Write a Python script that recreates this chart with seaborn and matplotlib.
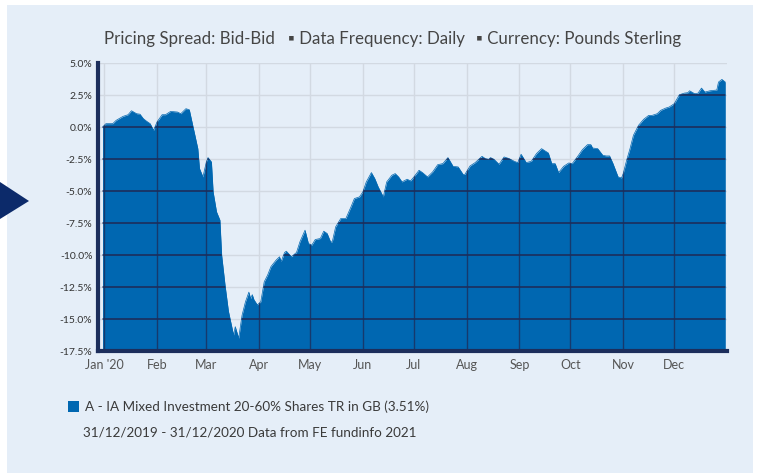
import pandas as pd
import seaborn as sns
import matplotlib.pyplot as plt
from matplotlib.patches import Rectangle, Polygon

# ==========================================
# DATA
# ==========================================
dates = [
    "2019-12-31", "2020-01-02", "2020-01-06", "2020-01-08", "2020-01-12", "2020-01-15",
    "2020-01-17", "2020-01-20", "2020-01-22", "2020-01-24", "2020-01-26", "2020-01-28",
    "2020-01-30", "2020-02-01", "2020-02-04", "2020-02-06", "2020-02-09", "2020-02-13",
    "2020-02-15", "2020-02-18", "2020-02-20", "2020-02-22", "2020-02-25", "2020-02-26",
    "2020-02-28", "2020-03-01", "2020-03-02", "2020-03-04", "2020-03-05", "2020-03-07",
    "2020-03-09", "2020-03-10", "2020-03-12", "2020-03-14", "2020-03-17", "2020-03-18",
    "2020-03-20", "2020-03-22", "2020-03-24", "2020-03-26", "2020-03-27", "2020-03-28",
    "2020-03-29", "2020-03-31", "2020-04-02", "2020-04-04", "2020-04-06", "2020-04-08",
    "2020-04-11", "2020-04-13", "2020-04-14", "2020-04-16", "2020-04-17", "2020-04-20",
    "2020-04-23", "2020-04-25", "2020-04-28", "2020-04-30", "2020-05-02", "2020-05-04",
    "2020-05-07", "2020-05-09", "2020-05-11", "2020-05-13", "2020-05-14", "2020-05-16",
    "2020-05-19", "2020-05-22", "2020-05-25", "2020-05-27", "2020-05-30", "2020-06-01",
    "2020-06-03", "2020-06-06", "2020-06-08", "2020-06-10", "2020-06-13", "2020-06-15",
    "2020-06-18", "2020-06-20", "2020-06-22", "2020-06-24", "2020-06-27", "2020-06-29",
    "2020-07-01", "2020-07-04", "2020-07-06", "2020-07-09", "2020-07-12", "2020-07-15",
    "2020-07-18", "2020-07-21", "2020-07-24", "2020-07-27", "2020-07-30", "2020-07-31",
    "2020-08-03", "2020-08-06", "2020-08-10", "2020-08-12", "2020-08-14", "2020-08-15",
    "2020-08-17", "2020-08-20", "2020-08-23", "2020-08-26", "2020-08-29", "2020-08-31",
    "2020-09-02", "2020-09-05", "2020-09-08", "2020-09-11", "2020-09-14", "2020-09-18",
    "2020-09-20", "2020-09-22", "2020-09-24", "2020-09-27", "2020-09-30", "2020-10-02",
    "2020-10-05", "2020-10-08", "2020-10-11", "2020-10-13", "2020-10-14", "2020-10-17",
    "2020-10-20", "2020-10-22", "2020-10-24", "2020-10-26", "2020-10-29", "2020-10-31",
    "2020-11-01", "2020-11-03", "2020-11-05", "2020-11-07", "2020-11-10", "2020-11-13",
    "2020-11-16", "2020-11-18", "2020-11-21", "2020-11-23", "2020-11-26", "2020-11-28",
    "2020-12-01", "2020-12-04", "2020-12-07", "2020-12-09", "2020-12-10", "2020-12-13",
    "2020-12-15", "2020-12-17", "2020-12-19", "2020-12-22", "2020-12-26", "2020-12-27",
    "2020-12-29", "2020-12-31",
]
values = [
    0.00, 0.26, 0.26, 0.52, 0.83, 0.96,
    1.27, 1.04, 1.00, 0.65, 0.44, 0.26,
    -0.26, 0.39, 0.96, 0.96, 1.22, 1.17,
    1.04, 1.43, 1.35, 0.13, -1.69, -3.25,
    -3.90, -2.73, -2.39, -2.73, -5.07, -6.63,
    -7.28, -10.00, -12.35, -14.40, -16.25, -15.60,
    -16.50, -14.70, -13.65, -12.90, -13.40, -13.10,
    -13.50, -13.90, -13.65, -12.10, -11.57, -10.90,
    -10.40, -10.14, -10.50, -9.80, -9.70, -10.14,
    -9.80, -8.97, -8.06, -9.10, -9.23, -8.79,
    -8.71, -8.14, -8.32, -8.97, -8.97, -7.80,
    -7.15, -7.15, -6.24, -5.59, -5.46, -5.07,
    -4.29, -3.56, -4.03, -4.68, -5.46, -4.29,
    -3.77, -3.64, -3.90, -4.29, -4.08, -4.21,
    -3.90, -3.38, -3.56, -3.90, -3.51, -2.94,
    -2.86, -2.39, -3.07, -3.12, -3.72, -3.69,
    -3.04, -2.78, -2.29, -2.47, -2.52, -2.39,
    -2.52, -2.91, -2.34, -2.47, -2.68, -2.78,
    -2.13, -2.78, -2.68, -2.08, -1.69, -2.03,
    -2.86, -2.86, -3.56, -3.07, -2.81, -2.86,
    -2.34, -1.77, -1.38, -1.38, -1.64, -1.69,
    -2.21, -2.26, -2.26, -2.86, -3.90, -3.98,
    -3.64, -2.60, -1.69, -0.65, 0.13, 0.60,
    0.91, 0.91, 1.04, 1.30, 1.48, 1.56,
    1.82, 2.52, 2.65, 2.68, 2.83, 2.60,
    2.65, 3.04, 2.73, 2.83, 2.89, 3.51,
    3.72, 3.51,
]
month_ticks = ["2020-01-01", "2020-02-01", "2020-03-01", "2020-04-01", "2020-05-01", "2020-06-01",
               "2020-07-01", "2020-08-01", "2020-09-01", "2020-10-01", "2020-11-01", "2020-12-01"]
month_labels = ["Jan '20", "Feb", "Mar", "Apr", "May", "Jun",
                "Jul", "Aug", "Sep", "Oct", "Nov", "Dec"]
y_ticks = [5.0, 2.5, 0.0, -2.5, -5.0, -7.5, -10.0, -12.5, -15.0, -17.5]

title_parts = ["Pricing Spread: Bid-Bid", "\u25aa Data Frequency: Daily", "\u25aa Currency: Pounds Sterling"]
legend_label = "A - IA Mixed Investment 20-60% Shares TR in GB (3.51%)"
source_note = "31/12/2019 - 31/12/2020 Data from FE fundinfo 2021"

df = pd.DataFrame({"date": pd.to_datetime(dates), "value": values})

# colours
PANEL = "#e5eef8"
BLUE = "#0067b1"
NAVY = "#1c2e5c"
GRID_LIGHT = "#d2d9e2"
TRI = "#0c2a6a"

W, H = 759, 473
def fx(px):
    return px / W
def fy(py):
    return 1 - py / H

# ==========================================
# FIGURE
# ==========================================
sns.set_theme(style="white")
plt.rcParams['font.family'] = ['Lato', 'DejaVu Sans']

fig = plt.figure(figsize=(W / 100, H / 100), dpi=100)
fig.patch.set_facecolor("white")
fig.patches.append(Rectangle((fx(7), 0), fx(753) - fx(7), fy(5), transform=fig.transFigure,
                             facecolor=PANEL, edgecolor="none", zorder=-2))
fig.patches.append(Polygon([(0, fy(182)), (fx(29), fy(201)), (0, fy(219))], transform=fig.transFigure,
                           facecolor=TRI, edgecolor="none", zorder=-1))

ax = fig.add_axes([fx(98), fy(351), fx(727) - fx(98), fy(63) - fy(351)])
ax.set_zorder(1)
ax.set_facecolor(PANEL)

# area
fill = ax.fill_between(df["date"], df["value"], -17.5, color=BLUE, lw=0, zorder=2)
sns.lineplot(data=df, x="date", y="value", color=BLUE, lw=0.5, ax=ax, zorder=2)

# axes / grid
ax.set_xlim(pd.Timestamp("2019-12-28 08:00"), pd.Timestamp("2021-01-01 00:00"))
ax.set_ylim(-17.5, 5.0)
ax.set_yticks(y_ticks)
ax.set_yticklabels([f"{v:.1f}%" for v in y_ticks])
ax.set_xticks(pd.to_datetime(month_ticks))
ax.set_xticklabels(month_labels)
ax.set_xlabel("")
ax.set_ylabel("")
ax.set_axisbelow(True)
ax.grid(True, color=GRID_LIGHT, lw=1.0)

# darker grid lines where they cross the filled area
fill_path = fill.get_paths()[0]
for v in y_ticks[1:-1]:
    ln = ax.axhline(v, color=NAVY, lw=1.2, zorder=3)
    ln.set_clip_path(fill_path, ax.transData)
for d in pd.to_datetime(month_ticks):
    ln = ax.axvline(d, color=NAVY, lw=1.0, alpha=0.8, zorder=3)
    ln.set_clip_path(fill_path, ax.transData)

for s in ["top", "right"]:
    ax.spines[s].set_visible(False)
for s in ["left", "bottom"]:
    ax.spines[s].set_color(NAVY)
    ax.spines[s].set_linewidth(3)
    ax.spines[s].set_zorder(4)

ax.tick_params(axis="y", length=0, pad=4, labelsize=7.5, labelcolor="#333333")
ax.tick_params(axis="x", length=0, pad=6, labelsize=9, labelcolor="#555555")

# title pieces
title_x = [104, 288, 476]
for t, x in zip(title_parts, title_x):
    fig.text(fx(x), fy(39), t, ha="left", va="center", fontsize=12.2, color="#454545")

# legend
fig.patches.append(Rectangle((fx(68), fy(412)), fx(79) - fx(68), fy(401) - fy(412),
                             transform=fig.transFigure, facecolor=BLUE, edgecolor="none", zorder=2))
fig.text(fx(85), fy(407), legend_label, ha="left", va="center", fontsize=9.7, color="#3a3a3a")
fig.text(fx(83), fy(432), source_note, ha="left", va="center", fontsize=9.7, color="#3a3a3a")

plt.savefig("out.png", dpi=100, facecolor=fig.get_facecolor())
